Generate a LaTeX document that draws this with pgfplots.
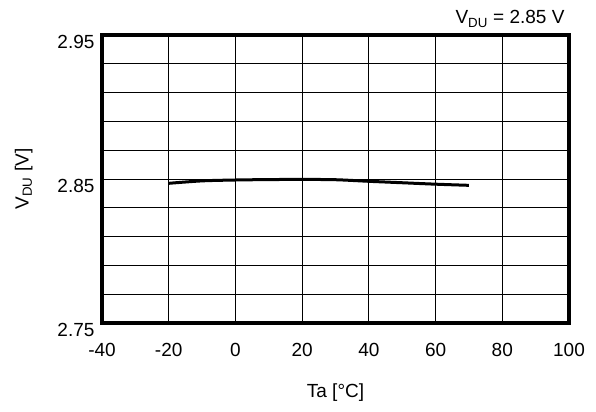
\documentclass[border=0pt]{standalone}
\usepackage{pgfplots}
\pgfplotsset{compat=1.18}
\usepackage{fontspec}
\setmainfont{Liberation Sans}
\begin{document}
\begin{tikzpicture}[x=1bp,y=1bp]
\begin{axis}[
  name=ax,
  scale only axis,
  width=467bp, height=288bp,
  xmin=-40, xmax=100, ymin=2.75, ymax=2.95,
  xtick={-40,-20,0,20,40,60,80,100},
  xticklabels={-40,-20,0,20,40,60,80,100},
  ytick={2.75,2.85,2.95},
  yticklabels={2.75,2.85,2.95},
  minor ytick={2.77,2.79,2.81,2.83,2.87,2.89,2.91,2.93},
  grid=both,
  major grid style={black, line width=0.8bp},
  minor grid style={black, line width=0.8bp},
  major tick length=0pt, minor tick length=0pt,
  axis line style={black, line width=3.2bp},
  tick label style={font=\fontsize{19bp}{22bp}\selectfont},
  xticklabel style={yshift=-17bp},
  yticklabel style={yshift=-7bp, xshift=-4bp},
  label style={font=\fontsize{19bp}{22bp}\selectfont},
  xlabel={Ta [°C]},
  xlabel style={yshift=-20bp},
  ylabel={V\textsubscript{DU} [V]},
  ylabel style={yshift=18bp},
]
\addplot[black, line width=3bp, smooth] coordinates {
  (-20,2.8470) (-10,2.8487) (0,2.8493) (10,2.8496) (20,2.8497) (30,2.8495) (40,2.8484) (50,2.8474) (60,2.8464) (70,2.8456)
};
\end{axis}
\node[anchor=base east, font=\fontsize{19bp}{22bp}\selectfont] at ([xshift=-1bp,yshift=11bp]ax.north east) {V\textsubscript{DU} = 2.85 V};
\pgfresetboundingbox
\useasboundingbox ([xshift=-102bp,yshift=-89bp]ax.south west) rectangle ([xshift=27bp,yshift=35bp]ax.north east);
\end{tikzpicture}
\end{document}
